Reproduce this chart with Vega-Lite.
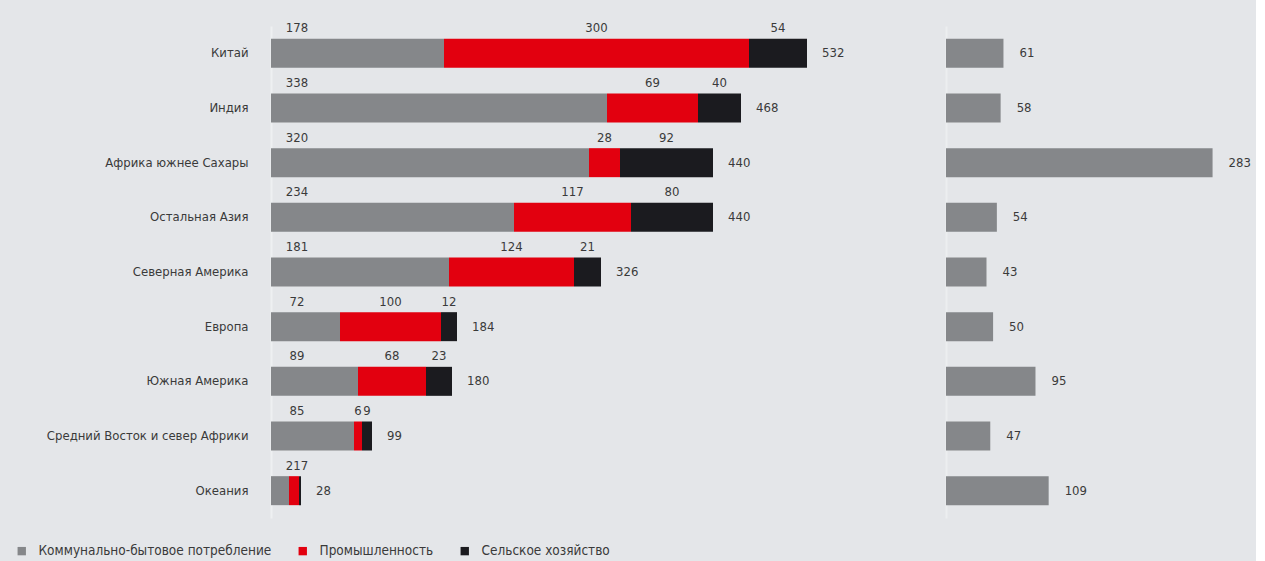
{
  "$schema": "https://vega.github.io/schema/vega-lite/v6.json",
  "background": "#e4e6e9",
  "padding": {"left": 5, "top": 22, "right": 5, "bottom": 5},
  "datasets": {
    "segments": [
      {"region": "Китай", "cat": "Коммунально-бытовое потребление", "value": 173, "label": "178"},
      {"region": "Китай", "cat": "Промышленность", "value": 305, "label": "300"},
      {"region": "Китай", "cat": "Сельское хозяйство", "value": 58, "label": "54"},
      {"region": "Индия", "cat": "Коммунально-бытовое потребление", "value": 336, "label": "338"},
      {"region": "Индия", "cat": "Промышленность", "value": 91, "label": "69"},
      {"region": "Индия", "cat": "Сельское хозяйство", "value": 43, "label": "40"},
      {"region": "Африка южнее Сахары", "cat": "Коммунально-бытовое потребление", "value": 318, "label": "320"},
      {"region": "Африка южнее Сахары", "cat": "Промышленность", "value": 31, "label": "28"},
      {"region": "Африка южнее Сахары", "cat": "Сельское хозяйство", "value": 93, "label": "92"},
      {"region": "Остальная Азия", "cat": "Коммунально-бытовое потребление", "value": 243, "label": "234"},
      {"region": "Остальная Азия", "cat": "Промышленность", "value": 117, "label": "117"},
      {"region": "Остальная Азия", "cat": "Сельское хозяйство", "value": 82, "label": "80"},
      {"region": "Северная Америка", "cat": "Коммунально-бытовое потребление", "value": 178, "label": "181"},
      {"region": "Северная Америка", "cat": "Промышленность", "value": 125, "label": "124"},
      {"region": "Северная Америка", "cat": "Сельское хозяйство", "value": 27, "label": "21"},
      {"region": "Европа", "cat": "Коммунально-бытовое потребление", "value": 69, "label": "72"},
      {"region": "Европа", "cat": "Промышленность", "value": 101, "label": "100"},
      {"region": "Европа", "cat": "Сельское хозяйство", "value": 16, "label": "12"},
      {"region": "Южная Америка", "cat": "Коммунально-бытовое потребление", "value": 87, "label": "89"},
      {"region": "Южная Америка", "cat": "Промышленность", "value": 68, "label": "68"},
      {"region": "Южная Америка", "cat": "Сельское хозяйство", "value": 26, "label": "23"},
      {"region": "Средний Восток и север Африки", "cat": "Коммунально-бытовое потребление", "value": 83, "label": "85"},
      {"region": "Средний Восток и север Африки", "cat": "Промышленность", "value": 8, "label": "6"},
      {"region": "Средний Восток и север Африки", "cat": "Сельское хозяйство", "value": 10, "label": "9"},
      {"region": "Океания", "cat": "Коммунально-бытовое потребление", "value": 18, "label": "217"},
      {"region": "Океания", "cat": "Промышленность", "value": 10, "label": ""},
      {"region": "Океания", "cat": "Сельское хозяйство", "value": 2, "label": ""}
    ],
    "regions": [
      {"region": "Китай", "total": 532, "bar": 536, "right": 61},
      {"region": "Индия", "total": 468, "bar": 470, "right": 58},
      {"region": "Африка южнее Сахары", "total": 440, "bar": 442, "right": 283},
      {"region": "Остальная Азия", "total": 440, "bar": 442, "right": 54},
      {"region": "Северная Америка", "total": 326, "bar": 330, "right": 43},
      {"region": "Европа", "total": 184, "bar": 186, "right": 50},
      {"region": "Южная Америка", "total": 180, "bar": 181, "right": 95},
      {"region": "Средний Восток и север Африки", "total": 99, "bar": 101, "right": 47},
      {"region": "Океания", "total": 28, "bar": 30, "right": 109}
    ]
  },
  "config": {
    "view": {"stroke": null},
    "font": "DejaVu Sans Condensed",
    "text": {"font": "DejaVu Sans Condensed", "fontSize": 13, "color": "#3a3a3a"}
  },
  "spacing": 75,
  "hconcat": [
    {
      "width": 600,
      "height": 492,
      "layer": [
        {
          "data": {"name": "segments"},
          "mark": {"type": "bar", "height": 29},
          "encoding": {
            "y": {
              "field": "region", "type": "nominal",
              "sort": ["Китай", "Индия", "Африка южнее Сахары", "Остальная Азия", "Северная Америка", "Европа", "Южная Америка", "Средний Восток и север Африки", "Океания"],
              "title": null,
              "axis": {"ticks": false, "domain": true, "domainColor": "#eef0f2", "domainWidth": 2, "labelPadding": 23, "minExtent": 266, "maxExtent": 266, "labelFontSize": 13, "labelColor": "#3a3a3a", "labelFont": "DejaVu Sans Condensed", "labelLimit": 260}
            },
            "x": {"field": "value", "type": "quantitative", "stack": "zero", "scale": {"domain": [0, 600]}, "axis": null},
            "color": {
              "field": "cat", "type": "nominal",
              "scale": {"domain": ["Коммунально-бытовое потребление", "Промышленность", "Сельское хозяйство"], "range": ["#85878a", "#e2000f", "#1b1b1f"]},
              "legend": {"orient": "none", "legendX": -256, "legendY": 518, "direction": "horizontal", "title": null, "symbolType": "square", "symbolSize": 70, "labelFontSize": 13.5, "labelColor": "#3a3a3a", "labelFont": "DejaVu Sans Condensed", "columnPadding": 24, "symbolOffset": 0, "labelOffset": 10, "labelLimit": 300}
            }
          }
        },
        {
          "data": {"name": "segments"},
          "transform": [
            {"stack": "value", "groupby": ["region"], "as": ["v0", "v1"]},
            {"calculate": "datum.cat === 'Коммунально-бытовое потребление' ? datum.v0 + 26 : (datum.v0 + datum.v1) / 2", "as": "lx"}
          ],
          "mark": {"type": "text", "dy": -25, "baseline": "middle", "align": "center"},
          "encoding": {
            "y": {"field": "region", "type": "nominal", "sort": ["Китай", "Индия", "Африка южнее Сахары", "Остальная Азия", "Северная Америка", "Европа", "Южная Америка", "Средний Восток и север Африки", "Океания"]},
            "x": {"field": "lx", "type": "quantitative"},
            "text": {"field": "label"}
          }
        },
        {
          "data": {"name": "regions"},
          "mark": {"type": "text", "align": "left", "dx": 15, "baseline": "middle"},
          "encoding": {
            "y": {"field": "region", "type": "nominal", "sort": ["Китай", "Индия", "Африка южнее Сахары", "Остальная Азия", "Северная Америка", "Европа", "Южная Америка", "Средний Восток и север Африки", "Океания"]},
            "x": {"field": "bar", "type": "quantitative"},
            "text": {"field": "total"}
          }
        }
      ]
    },
    {
      "width": 292,
      "height": 492,
      "data": {"name": "regions"},
      "encoding": {
        "y": {
          "field": "region", "type": "nominal",
          "sort": ["Китай", "Индия", "Африка южнее Сахары", "Остальная Азия", "Северная Америка", "Европа", "Южная Америка", "Средний Восток и север Африки", "Океания"],
          "title": null,
          "axis": {"labels": false, "ticks": false, "domain": true, "domainColor": "#eceef0", "domainWidth": 2}
        },
        "x": {"field": "right", "type": "quantitative", "scale": {"domain": [0, 310]}, "axis": null}
      },
      "layer": [
        {"mark": {"type": "bar", "height": 29, "color": "#85878a"}},
        {"mark": {"type": "text", "align": "left", "dx": 16, "baseline": "middle"}, "encoding": {"text": {"field": "right"}}}
      ]
    }
  ]
}
